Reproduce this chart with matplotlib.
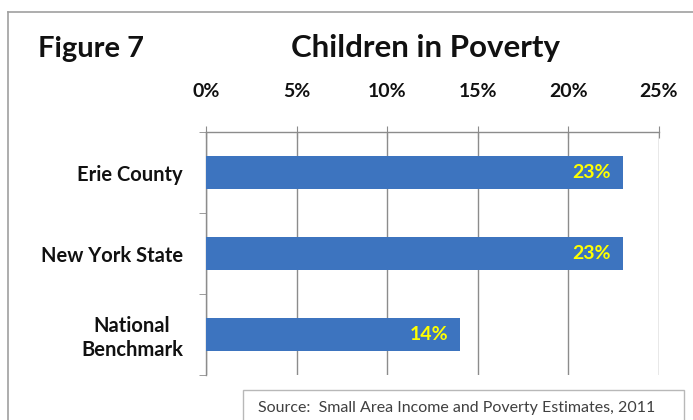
import matplotlib.pyplot as plt
from matplotlib.patches import Rectangle
from matplotlib.lines import Line2D

plt.rcParams['font.family'] = ['Lato', 'DejaVu Sans']

categories = ['Erie County', 'New York State', 'National\nBenchmark']
pct_values = [23, 23, 14]
x_ticks = [0, 5, 10, 15, 20, 25]
tick_labels = ['0%', '5%', '10%', '15%', '20%', '25%']

bar_color = '#3D74BF'
grid_color = '#8C8C8C'

fig = plt.figure(figsize=(6.93, 4.20), dpi=100)
fig.patch.set_facecolor('white')

# outer frame (top and left visible)
fig.add_artist(Line2D([8/693, 1], [1-12/420, 1-12/420], color='#A0A0A0', lw=1.2))
fig.add_artist(Line2D([8/693, 8/693], [0, 1-12/420], color='#A0A0A0', lw=1.2))

fig.text(38/693, 1-57/420, 'Figure 7', fontsize=21, fontweight='bold', color='#111111',
         ha='left', va='baseline')
fig.text(426/693, 1-57/420, 'Children in Poverty', fontsize=22.5, fontweight='bold',
         color='#111111', ha='center', va='baseline')

ax = fig.add_axes([206/693, 1-375/420, 453/693, 243/420])
ypos = list(range(len(categories)))
ax.barh(ypos, pct_values, height=0.41, color=bar_color, zorder=3)
ax.set_xlim(0, 25)
ax.set_ylim(len(categories)-0.5, -0.5)

ax.xaxis.tick_top()
ax.set_xticks(x_ticks)
ax.set_xticklabels(tick_labels, fontsize=14, fontweight='bold', color='#111111')
ax.tick_params(axis='x', direction='inout', length=8, color=grid_color, pad=19)
ax.xaxis.grid(True, color=grid_color, lw=1.0, zorder=0)

ax.set_yticks(ypos)
ax.set_yticklabels(categories, fontsize=14.5, fontweight='bold', color='#111111')
for lab in ax.get_yticklabels():
    lab.set_multialignment('center')
ax.tick_params(axis='y', length=0, pad=16.5)
# category separators on the left axis
ax.set_yticks([y - 0.5 for y in range(len(categories)+1)], minor=True)
ax.tick_params(axis='y', which='minor', length=5, color=grid_color, direction='out')

for side in ['bottom', 'right']:
    ax.spines[side].set_visible(False)
for side in ['top', 'left']:
    ax.spines[side].set_color(grid_color)
    ax.spines[side].set_linewidth(1.0)

for y, v in zip(ypos, pct_values):
    ax.text(v - 0.65, y, f'{v}%', color='#FFFF00', fontsize=14, fontweight='bold',
            ha='right', va='center', zorder=4)

# source box
fig.add_artist(Rectangle((243/693, -0.05), 441/693, 0.05 + 30/420,
                         transform=fig.transFigure, facecolor='white',
                         edgecolor='#B8B8B8', lw=1.0))
fig.text(258/693, 1-408/420, 'Source:  Small Area Income and Poverty Estimates, 2011',
         fontsize=11.5, color='#404040', ha='left', va='center')

fig.savefig('out.png', dpi=100)
